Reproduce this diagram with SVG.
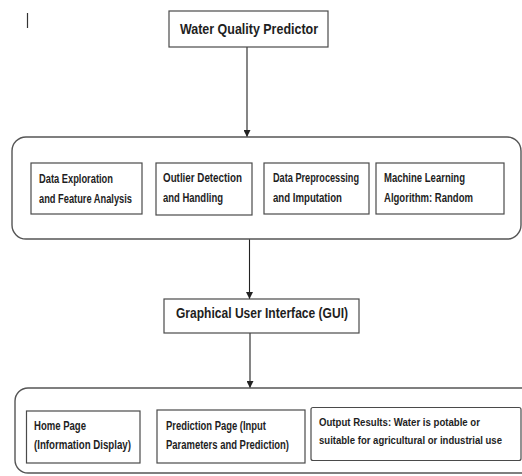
<svg xmlns="http://www.w3.org/2000/svg" width="522" height="476" viewBox="0 0 522 476">
<defs>
<style>
.box{fill:#fff;stroke:#4a4a4a;stroke-width:1.2}
.grp{fill:#fff;stroke:#555;stroke-width:1.4}
.conn{stroke:#222;stroke-width:1.1;fill:none}
text{font-family:"Liberation Sans",Arial,sans-serif;font-weight:bold;fill:#1e1e1e}
.t{font-size:12px}
.s{font-size:10.4px}
.h{font-size:14px}
</style>
<marker id="arr" viewBox="0 0 8 8" refX="8" refY="4" markerWidth="7" markerHeight="7" markerUnits="userSpaceOnUse" orient="auto">
<path d="M0,0 L8,4 L0,8 Z" fill="#222"/>
</marker>
</defs>
<line x1="27.5" y1="13" x2="27.5" y2="28" stroke="#333" stroke-width="1.2"/>
<g id="connectors">
<line class="conn" x1="247" y1="47" x2="247" y2="137" marker-end="url(#arr)"/>
<line class="conn" x1="249.5" y1="239" x2="249.5" y2="299" marker-end="url(#arr)"/>
<line class="conn" x1="250" y1="333" x2="250" y2="388" marker-end="url(#arr)"/>
</g>
<g id="water-quality-predictor">
<rect class="box" x="169" y="11" width="159" height="36"/>
<text class="h" x="180" y="34" textLength="138" lengthAdjust="spacingAndGlyphs">Water Quality Predictor</text>
</g>
<g id="processing-group">
<rect class="grp" x="12" y="137" width="509" height="102" rx="14"/>
<g id="data-exploration">
<rect class="box" x="31" y="163" width="111" height="51"/>
<text class="t" x="39" y="183" textLength="74" lengthAdjust="spacingAndGlyphs">Data Exploration</text>
<text class="t" x="39" y="203" textLength="93" lengthAdjust="spacingAndGlyphs">and Feature Analysis</text>
</g>
<g id="outlier-detection">
<rect class="box" x="156" y="163" width="96" height="52"/>
<text class="t" x="163" y="182" textLength="79" lengthAdjust="spacingAndGlyphs">Outlier Detection</text>
<text class="t" x="163" y="202" textLength="60" lengthAdjust="spacingAndGlyphs">and Handling</text>
</g>
<g id="data-preprocessing">
<rect class="box" x="264" y="163" width="105" height="51"/>
<text class="t" x="273" y="182" textLength="86" lengthAdjust="spacingAndGlyphs">Data Preprocessing</text>
<text class="t" x="273" y="202" textLength="69" lengthAdjust="spacingAndGlyphs">and Imputation</text>
</g>
<g id="machine-learning">
<rect class="box" x="376" y="163" width="128" height="51"/>
<text class="t" x="384" y="182" textLength="81" lengthAdjust="spacingAndGlyphs">Machine Learning</text>
<text class="t" x="384" y="202" textLength="89" lengthAdjust="spacingAndGlyphs">Algorithm: Random</text>
</g>
</g>
<g id="gui">
<rect class="box" x="164" y="299" width="195" height="34"/>
<text class="h" x="176" y="318" textLength="172" lengthAdjust="spacingAndGlyphs">Graphical User Interface (GUI)</text>
</g>
<g id="gui-group">
<path class="grp" d="M522,388 H28 A13,13 0 0 0 15,401 V460 A13,13 0 0 0 28,473 H522"/>
<g id="home-page">
<rect class="box" x="26.5" y="411" width="113.5" height="52"/>
<text class="t" x="34" y="430" textLength="52" lengthAdjust="spacingAndGlyphs">Home Page</text>
<text class="t" x="34" y="449" textLength="97" lengthAdjust="spacingAndGlyphs">(Information Display)</text>
</g>
<g id="prediction-page">
<rect class="box" x="157" y="410" width="148" height="53"/>
<text class="t" x="166" y="430" textLength="100" lengthAdjust="spacingAndGlyphs">Prediction Page (Input</text>
<text class="t" x="166" y="449" textLength="123" lengthAdjust="spacingAndGlyphs">Parameters and Prediction)</text>
</g>
<g id="output-results">
<rect class="box" x="311" y="407.5" width="210" height="53" rx="2"/>
<text class="s" x="319" y="426" textLength="161" lengthAdjust="spacingAndGlyphs">Output Results: Water is potable or</text>
<text class="s" x="319" y="444" textLength="183" lengthAdjust="spacingAndGlyphs">suitable for agricultural or industrial use</text>
</g>
</g>
</svg>
